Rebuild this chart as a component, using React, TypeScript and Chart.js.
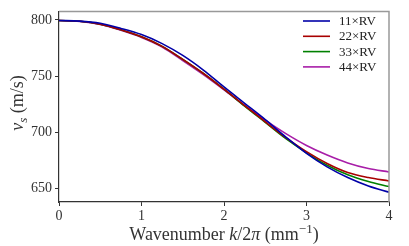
import React, { useEffect, useRef } from "react";
import { Chart, registerables } from "chart.js";

Chart.register(...registerables);

const wavenumbers = [0, 0.25, 0.5, 0.75, 1, 1.25, 1.5, 1.75, 2, 2.25, 2.5, 2.75, 3, 3.25, 3.5, 3.75, 4];
const rv11 = [799.5, 799, 797, 792.5, 787, 779, 768.5, 755.5, 740.5, 726, 711.5, 696, 681.5, 669.5, 660, 652.5, 647];
const rv22 = [799.5, 798.8, 796.3, 791.3, 785, 776.5, 765, 752.5, 738.5, 724, 709.5, 695.5, 683, 672.5, 664.5, 660, 657];
const rv33 = [799.5, 798.8, 796.3, 791.3, 785, 776.5, 765, 752.5, 738.5, 723.5, 709, 694.5, 682, 671, 662.5, 656.5, 652];
const rv44 = [799.5, 798.7, 796, 790.8, 784.5, 776, 764, 751.5, 738, 724, 711, 699, 688.5, 680, 673, 668, 665];
const seriesLabels = ["11×RV", "22×RV", "33×RV", "44×RV"];
const seriesColors = ["#0000a8", "#a80000", "#008000", "#a81ea8"];
const xTicks = [0, 1, 2, 3, 4];
const yTicks = [650, 700, 750, 800];

const SERIF = "'Liberation Serif', 'DejaVu Serif', serif";

type Piece = { t: string; italic?: boolean; sup?: boolean; sub?: boolean };

function drawPieces(ctx: CanvasRenderingContext2D, pieces: Piece[], size: number, cx: number, baseline: number) {
  const fontFor = (p: Piece) => {
    const s = p.sup || p.sub ? Math.round(size * 0.7) : size;
    return `${p.italic ? "italic " : ""}${s}px ${SERIF}`;
  };
  let total = 0;
  const widths = pieces.map((p) => {
    ctx.font = fontFor(p);
    const w = ctx.measureText(p.t).width;
    total += w;
    return w;
  });
  let x = cx - total / 2;
  ctx.textAlign = "left";
  ctx.textBaseline = "alphabetic";
  pieces.forEach((p, i) => {
    ctx.font = fontFor(p);
    const dy = p.sup ? -size * 0.4 : p.sub ? size * 0.2 : 0;
    ctx.fillText(p.t, x, baseline + dy);
    x += widths[i];
  });
}

const extrasPlugin = {
  id: "extras",
  afterDraw(chart: any) {
    const { ctx, chartArea } = chart;
    const { left, right, top, bottom } = chartArea;
    ctx.save();
    // top & right spines
    ctx.strokeStyle = "#999999";
    ctx.lineWidth = 1.5;
    ctx.beginPath();
    ctx.moveTo(left, top);
    ctx.lineTo(right, top);
    ctx.lineTo(right, bottom);
    ctx.stroke();
    // legend
    chart.data.datasets.forEach((ds: any, i: number) => {
      const y = 21 + i * 15.3;
      ctx.strokeStyle = ds.borderColor;
      ctx.lineWidth = 1.6;
      ctx.beginPath();
      ctx.moveTo(303, y);
      ctx.lineTo(330, y);
      ctx.stroke();
      ctx.fillStyle = "#222";
      ctx.font = `13px ${SERIF}`;
      ctx.textAlign = "left";
      ctx.textBaseline = "middle";
      ctx.fillText(ds.label, 339, y + 0.5);
    });
    // axis titles
    ctx.fillStyle = "#333";
    drawPieces(
      ctx,
      [
        { t: "Wavenumber " },
        { t: "k", italic: true },
        { t: "/2" },
        { t: "π", italic: true },
        { t: " (mm" },
        { t: "−1", sup: true },
        { t: ")" },
      ],
      18,
      (left + right) / 2,
      240
    );
    ctx.save();
    ctx.translate(23, 103);
    ctx.rotate(-Math.PI / 2);
    drawPieces(
      ctx,
      [{ t: "v", italic: true }, { t: "s", italic: true, sub: true }, { t: " (m/s)" }],
      18,
      0,
      0
    );
    ctx.restore();
    ctx.restore();
  },
};

export default function App() {
  const ref = useRef<HTMLCanvasElement | null>(null);
  useEffect(() => {
    document.body.style.margin = "0";
    const canvas = ref.current!;
    const all = [rv11, rv22, rv33, rv44];
    const chart = new Chart(canvas, {
      type: "line",
      data: {
        datasets: all.map((vals, i) => ({
          label: seriesLabels[i],
          data: wavenumbers.map((k, j) => ({ x: k, y: vals[j] })),
          borderColor: seriesColors[i],
          backgroundColor: seriesColors[i],
          borderWidth: 1.6,
          pointRadius: 0,
          cubicInterpolationMode: "monotone" as const,
          fill: false,
        })),
      },
      options: {
        animation: false,
        responsive: false,
        devicePixelRatio: 1,
        layout: { padding: { left: 0, right: 20, top: 5, bottom: 0 } },
        plugins: { legend: { display: false }, tooltip: { enabled: false } },
        scales: {
          x: {
            type: "linear",
            min: 0,
            max: 4,
            afterBuildTicks: (s: any) => {
              s.ticks = xTicks.map((v) => ({ value: v }));
            },
            afterFit: (s: any) => {
              s.height = 44;
            },
            border: { display: true, color: "#333", width: 1.2 },
            grid: { display: true, drawOnChartArea: false, drawTicks: true, tickLength: 4, color: "#333" },
            ticks: { color: "#333", font: { family: SERIF, size: 14 }, padding: 2, maxRotation: 0 },
          },
          y: {
            type: "linear",
            min: 638.3,
            max: 807.6,
            afterBuildTicks: (s: any) => {
              s.ticks = yTicks.map((v) => ({ value: v }));
            },
            afterFit: (s: any) => {
              s.width = 59;
            },
            border: { display: true, color: "#333", width: 1.2 },
            grid: { display: true, drawOnChartArea: false, drawTicks: true, tickLength: 4, color: "#333" },
            ticks: { color: "#333", font: { family: SERIF, size: 14 }, padding: 3 },
          },
        },
      },
      plugins: [extrasPlugin],
    });
    return () => chart.destroy();
  }, []);
  return (
    <div style={{ position: "fixed", left: 0, top: 0, width: 409, height: 246, background: "#fff" }}>
      <canvas ref={ref} width={409} height={246} style={{ width: 409, height: 246 }} />
    </div>
  );
}
